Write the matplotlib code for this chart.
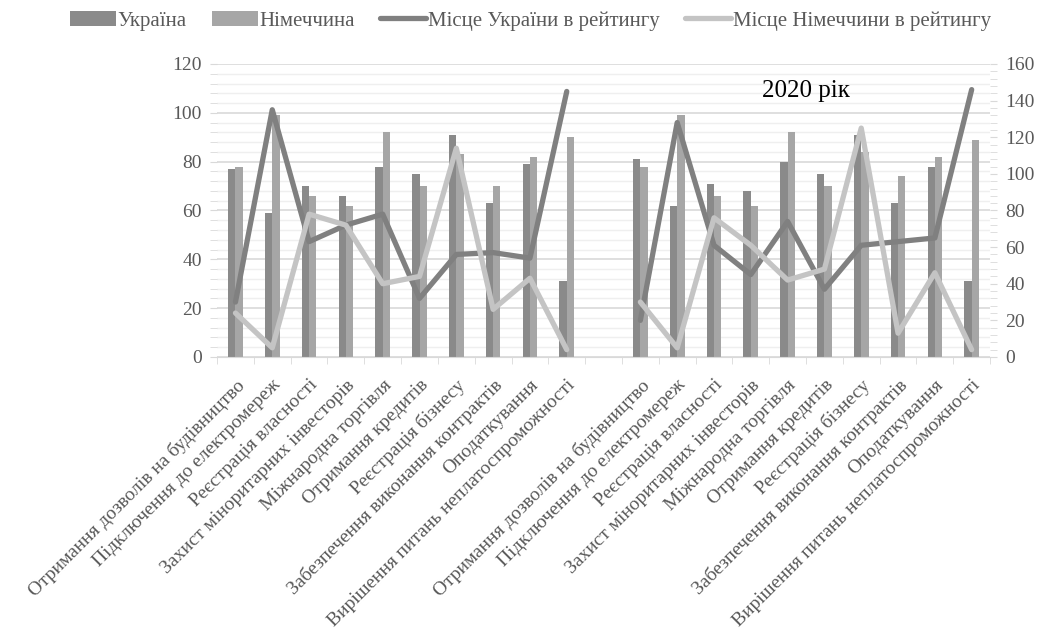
import numpy as np
import matplotlib
matplotlib.use("Agg")
import matplotlib.pyplot as plt
from matplotlib.ticker import MultipleLocator, FixedLocator

plt.rcParams["font.family"] = ["Liberation Serif", "DejaVu Serif"]

indicators = [
    "Отримання дозволів на будівництво",
    "Підключення до електромереж",
    "Реєстрація власності",
    "Захист міноритарних інвесторів",
    "Міжнародна торгівля",
    "Отримання кредитів",
    "Реєстрація бізнесу",
    "Забезпечення виконання контрактів",
    "Оподаткування",
    "Вирішення питань неплатоспроможності",
]

# scores (left axis)
ukraine_2019 = [77, 59, 70, 66, 78, 75, 91, 63, 79, 31]
germany_2019 = [78, 99, 66, 62, 92, 70, 83, 70, 82, 90]
ukraine_2020 = [81, 62, 71, 68, 80, 75, 91, 63, 78, 31]
germany_2020 = [78, 99, 66, 62, 92, 70, 84, 74, 82, 89]

# ranks (right axis)
ukraine_rank_2019 = [30, 135, 63, 72, 78, 32, 56, 57, 54, 145]
germany_rank_2019 = [24, 5, 78, 72, 40, 44, 114, 26, 43, 4]
ukraine_rank_2020 = [20, 128, 61, 45, 74, 37, 61, 63, 65, 146]
germany_rank_2020 = [30, 5, 76, 61, 42, 48, 125, 13, 46, 4]

labels = indicators + [""] + indicators
ua = ukraine_2019 + [np.nan] + ukraine_2020
de = germany_2019 + [np.nan] + germany_2020
ua_rank = ukraine_rank_2019 + [np.nan] + ukraine_rank_2020
de_rank = germany_rank_2019 + [np.nan] + germany_rank_2020

c_ua_bar = "#8a8a8a"
c_de_bar = "#a6a6a6"
c_ua_line = "#808080"
c_de_line = "#c4c4c4"
txt = "#595959"
fs = 14

fig = plt.figure(figsize=(10.4, 6.36), dpi=100)
ax = fig.add_axes([0.2087, 0.4387, 0.7433, 0.4607])

x = np.arange(len(labels))
w = 0.2
b1 = ax.bar(x - w / 2, ua, w, color=c_ua_bar, label="Україна", zorder=2)
b2 = ax.bar(x + w / 2, de, w, color=c_de_bar, label="Німеччина", zorder=2)

ax.set_xlim(-0.5, len(labels) - 0.5)
ax.set_ylim(0, 120)
ax.yaxis.set_major_locator(MultipleLocator(20))
ax.yaxis.set_minor_locator(MultipleLocator(4))
ax.grid(axis="y", which="major", color="#d9d9d9", lw=1.2, zorder=0)
ax.grid(axis="y", which="minor", color="#efefef", lw=1.0, zorder=0)
ax.set_axisbelow(True)

ax.set_xticks(x)
ax.set_xticklabels(labels, rotation=45, ha="right", rotation_mode="anchor",
                   fontsize=fs, color=txt)
ax.xaxis.set_minor_locator(FixedLocator(np.arange(-0.5, len(labels), 1)))
ax.tick_params(axis="x", which="major", length=0, pad=14)
ax.tick_params(axis="x", which="minor", length=5, color="#d9d9d9", direction="out")
ax.tick_params(axis="y", which="both", length=5, color="#d9d9d9", labelsize=fs,
               labelcolor=txt, pad=6)

for s in ["top", "right", "left"]:
    ax.spines[s].set_visible(False)
ax.spines["bottom"].set_color("#d9d9d9")

ax2 = ax.twinx()
l1, = ax2.plot(x, ua_rank, color=c_ua_line, lw=3.8, solid_joinstyle="round",
               solid_capstyle="round", label="Місце України в рейтингу")
l2, = ax2.plot(x, de_rank, color=c_de_line, lw=3.8, solid_joinstyle="round",
               solid_capstyle="round", label="Місце Німеччини в рейтингу")
ax2.set_ylim(0, 160)
ax2.yaxis.set_major_locator(MultipleLocator(20))
ax2.yaxis.set_minor_locator(MultipleLocator(4))
ax2.tick_params(axis="y", which="both", length=5, color="#d9d9d9", labelsize=fs,
                labelcolor=txt, pad=6)
for s in ["top", "right", "left", "bottom"]:
    ax2.spines[s].set_visible(False)

ax2.text(15.5, 145, "2020 рік", fontsize=18, color="black", ha="center", va="center")

fig.legend(handles=[b1, b2, l1, l2], loc="upper center", bbox_to_anchor=(0.51, 1.012),
           ncol=4, frameon=False, fontsize=15, handlelength=2.2, columnspacing=1.2,
           handletextpad=0.1, labelcolor=txt)

fig.savefig("out.png", dpi=100)
